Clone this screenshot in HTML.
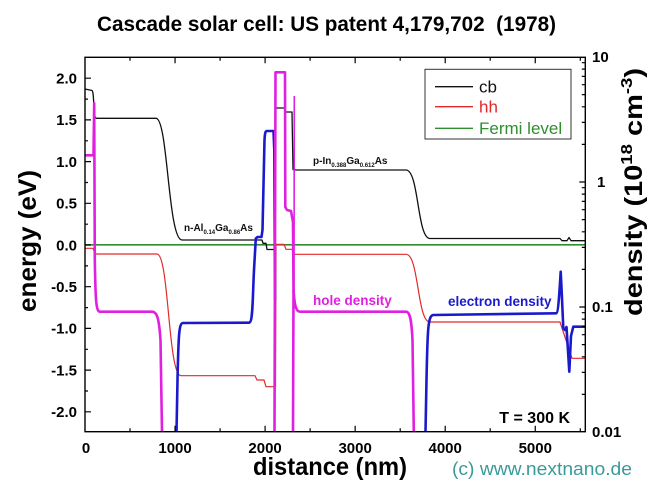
<!DOCTYPE html>
<html><head><meta charset="utf-8"><style>
html,body{margin:0;padding:0;background:#fff;}
svg{display:block;}
text{font-family:"Liberation Sans",Arial,sans-serif;}
</style></head><body>
<svg width="657" height="499" viewBox="0 0 657 499" xmlns="http://www.w3.org/2000/svg">
<rect width="657" height="499" fill="#fff"/>
<text x="97" y="31" font-size="21" font-weight="bold" fill="#000" textLength="459" lengthAdjust="spacingAndGlyphs">Cascade solar cell: US patent 4,179,702&#160; (1978)</text>

<g fill="none" stroke-linejoin="round">
  <path d="M85,244.8 L585,244.8" stroke="#2f8f2f" stroke-width="1.6"/>
  <path d="M85,248.3 L93,248.3 L95,254 L157,254 C169,254 168,375.7 181,375.7 L255,375.7 L257,380 L264,380 L266,386.7 L275.5,386.7 L276,244.3 L284,244.3 L286,249.3 L292,249.3 L294,254.3 L406,254.3 C419,254.3 417,322 430,322 L560,322 L572,358.3 L585,358.3" stroke="#e02a2a" stroke-width="1.2"/>
  <path d="M85,89 L92,90.5 C93,91 93.5,95 94,110 C94.5,116 95,118.3 97,118.3 L156,118.3 C168,118.3 168,240 182,240 L262,240 L263,243.3 L266,243.3 L267,249.5 L275,249.5 L275.5,108 L285,108 L285.5,112 L292,112 L293,169.5 L296,170 L406,170 C419,170 417,238.5 430,238.5 L560,238.5 L562,240.7 L567,240.7 L569,237.5 L571,240.7 L585,240.7" stroke="#111" stroke-width="1.3"/>
  <path d="M176.5,432 L177.5,380 C178.5,335 179,323 183,323 L249,322.7 C253,322.7 252.5,300 254,270 L255.8,238.5 L257.5,237 L261.5,237 L262.5,230 L264.5,140 C265,132 265.5,131 267,131 L273.5,131 L274.3,150 L275,300" stroke="#1a1acc" stroke-width="2.6"/>
  <path d="M425.5,432 L426.5,380 C427.5,330 428,316 433,315 L556,313.3 C558,313.3 559,300 560.7,271.7 L561.7,292 L563.3,328 L565,330 L566.5,327 L569.3,371.7 L571,336 L573.3,326.7 L585,326.7" stroke="#1a1acc" stroke-width="2.6"/>
  <path d="M85,155.3 L93.5,155.3 L94.2,103.3 L94.8,260 C95.5,300 96,311.7 100,311.7 L152,311.7 C157,311.7 159,318 160.5,340 L162,432" stroke="#e020e0" stroke-width="2.6"/>
  <path d="M274.5,432 L275.5,72.3 L285,72.3 L285.3,207 L287,210 L291,211 L293,222 L293.5,290 C294.5,305 296,311.7 300,311.7 L406,311.7 C410,311.7 411.5,320 412.5,340 L413.8,432" stroke="#e020e0" stroke-width="2.6"/>
  <path d="M293.5,290 L293,432" stroke="#e020e0" stroke-width="2.6"/>
  <path d="M294.3,96 L294,300" stroke="#e020e0" stroke-width="1.6"/>
</g>

<rect x="85" y="57.3" width="500.3" height="374.4" fill="none" stroke="#000" stroke-width="1.4"/>

<g stroke="#000" stroke-width="1.2">
  <path d="M85,78.2h6M85,119.9h6M85,161.6h6M85,203.3h6M85,245h6M85,286.7h6M85,328.4h6M85,370.1h6M85,411.8h6"/>
  <path d="M85,99.1h3M85,140.8h3M85,182.5h3M85,224.2h3M85,265.9h3M85,307.6h3M85,349.3h3M85,391h3"/>
  <path d="M175.05,431.7v-6M265.1,431.7v-6M355.15,431.7v-6M445.2,431.7v-6M535.25,431.7v-6"/>
  <path d="M130,431.7v-3.5M220.1,431.7v-3.5M310.1,431.7v-3.5M400.2,431.7v-3.5M490.2,431.7v-3.5M580.3,431.7v-3.5"/>
  <path d="M175.05,57.3v6M265.1,57.3v6M355.15,57.3v6M445.2,57.3v6M535.25,57.3v6"/>
  <path d="M130,57.3v3.5M220.1,57.3v3.5M310.1,57.3v3.5M400.2,57.3v3.5M490.2,57.3v3.5M580.3,57.3v3.5"/>
  <path d="M585.3,182h-6M585.3,307h-6"/>
  <path d="M585.3,144.4h-3.5M585.3,122.4h-3.5M585.3,106.8h-3.5M585.3,94.6h-3.5M585.3,84.7h-3.5M585.3,76.4h-3.5M585.3,69.1h-3.5M585.3,62.7h-3.5"/>
  <path d="M585.3,269.4h-3.5M585.3,247.4h-3.5M585.3,231.8h-3.5M585.3,219.6h-3.5M585.3,209.7h-3.5M585.3,201.4h-3.5M585.3,194.1h-3.5M585.3,187.7h-3.5"/>
  <path d="M585.3,394.4h-3.5M585.3,372.4h-3.5M585.3,356.8h-3.5M585.3,344.6h-3.5M585.3,334.7h-3.5M585.3,326.4h-3.5M585.3,319.1h-3.5M585.3,312.7h-3.5"/>
</g>

<g font-size="15" font-weight="bold" text-anchor="end" fill="#000">
  <text x="77" y="83.5">2.0</text>
  <text x="77" y="125.2">1.5</text>
  <text x="77" y="166.9">1.0</text>
  <text x="77" y="208.6">0.5</text>
  <text x="77" y="250.3">0.0</text>
  <text x="77" y="292">-0.5</text>
  <text x="77" y="333.7">-1.0</text>
  <text x="77" y="375.4">-1.5</text>
  <text x="77" y="417.1">-2.0</text>
</g>
<g font-size="15" font-weight="bold" text-anchor="middle" fill="#000">
  <text x="86" y="453">0</text>
  <text x="175.05" y="453">1000</text>
  <text x="265.1" y="453">2000</text>
  <text x="355.15" y="453">3000</text>
  <text x="445.2" y="453">4000</text>
  <text x="535.25" y="453">5000</text>
</g>
<g font-size="15" font-weight="bold" fill="#000">
  <text x="592" y="62">10</text>
  <text x="597" y="187">1</text>
  <text x="592" y="312">0.1</text>
  <text x="592" y="437">0.01</text>
</g>

<text transform="translate(36,241) rotate(-90)" font-size="25" font-weight="bold" text-anchor="middle" fill="#000" textLength="142" lengthAdjust="spacingAndGlyphs">energy (eV)</text>
<text x="330" y="475" font-size="25" font-weight="bold" text-anchor="middle" fill="#000" textLength="154" lengthAdjust="spacingAndGlyphs">distance (nm)</text>
<text transform="translate(642,316) rotate(-90)" font-size="25" font-weight="bold" fill="#000" textLength="248" lengthAdjust="spacingAndGlyphs">density (10<tspan font-size="16" dy="-10">18</tspan><tspan dy="10"> cm</tspan><tspan font-size="16" dy="-10">-3</tspan><tspan dy="10">)</tspan></text>

<text x="452" y="475" font-size="18" fill="#3a9a9a" textLength="180" lengthAdjust="spacingAndGlyphs">(c) www.nextnano.de</text>

<rect x="425" y="69.3" width="146" height="69.7" fill="#fff" stroke="#333" stroke-width="1"/>
<path d="M435,86.7h38" stroke="#111" stroke-width="1.3"/>
<path d="M435,106.7h38" stroke="#e02a2a" stroke-width="1.3"/>
<path d="M435,128.3h38" stroke="#2f8f2f" stroke-width="1.3"/>
<g font-size="17">
  <text x="479" y="92.5" fill="#111">cb</text>
  <text x="479" y="112.5" fill="#e02a2a">hh</text>
  <text x="479" y="134" fill="#2f8f2f">Fermi level</text>
</g>

<text x="184" y="231" font-size="10" font-weight="bold" fill="#111">n-Al<tspan font-size="6" dy="3">0.14</tspan><tspan dy="-3">Ga</tspan><tspan font-size="6" dy="3">0.86</tspan><tspan dy="-3">As</tspan></text>
<text x="313" y="164" font-size="10" font-weight="bold" fill="#111">p-In<tspan font-size="6" dy="3">0.388</tspan><tspan dy="-3">Ga</tspan><tspan font-size="6" dy="3">0.612</tspan><tspan dy="-3">As</tspan></text>
<text x="313" y="305" font-size="13.5" font-weight="bold" fill="#e020e0">hole density</text>
<text x="448" y="306" font-size="13.5" font-weight="bold" fill="#1a1acc">electron density</text>
<text x="570" y="423" font-size="16" font-weight="bold" text-anchor="end" fill="#000">T = 300 K</text>
</svg>
</body></html>
